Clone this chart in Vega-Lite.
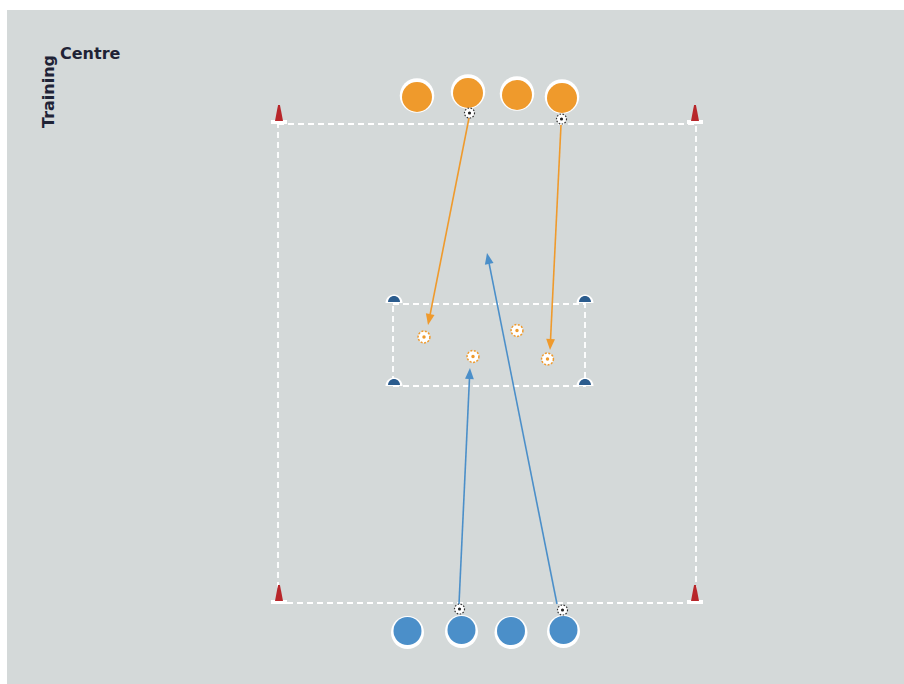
{
  "$schema": "https://vega.github.io/schema/vega-lite/v6.json",
  "width": 897,
  "height": 674,
  "autosize": {"type": "none"},
  "padding": {"left": 7, "top": 10, "right": 0, "bottom": 0},
  "background": "#ffffff",
  "config": {"view": {"fill": "#d4d9d9", "stroke": null}},
  "datasets": {
    "areas": [
      {"name": "pitch", "x": 278, "y": 124, "x2": 696, "y2": 603},
      {"name": "box", "x": 393, "y": 304, "x2": 585, "y2": 386}
    ],
    "cones": [
      {"x": 279, "y": 114}, {"x": 695, "y": 114},
      {"x": 279, "y": 594}, {"x": 695, "y": 594}
    ],
    "domes": [
      {"x": 394, "y": 303}, {"x": 585, "y": 303},
      {"x": 394, "y": 386}, {"x": 585, "y": 386}
    ],
    "orangePlayers": [
      {"x": 417, "y": 97}, {"x": 468, "y": 93}, {"x": 517, "y": 95}, {"x": 562, "y": 98}
    ],
    "bluePlayers": [
      {"x": 407.5, "y": 631}, {"x": 461.5, "y": 630}, {"x": 511, "y": 631}, {"x": 563.5, "y": 630}
    ],
    "balls": [
      {"x": 469.5, "y": 113}, {"x": 561.5, "y": 119}, {"x": 459.5, "y": 609}, {"x": 562.5, "y": 610}
    ],
    "targetBalls": [
      {"x": 424, "y": 337}, {"x": 473, "y": 356.5}, {"x": 517, "y": 330.5}, {"x": 547.5, "y": 359}
    ],
    "passes": [
      {"team": "orange", "x": 469, "y": 118, "x2": 429.1, "y2": 319.6},
      {"team": "orange", "x": 561, "y": 125, "x2": 550.3, "y2": 344.5},
      {"team": "blue", "x": 459, "y": 604, "x2": 469.7, "y2": 373.5},
      {"team": "blue", "x": 557, "y": 604, "x2": 488.1, "y2": 258.4}
    ],
    "heads": [
      {"team": "orange", "x": 429.1, "y": 319.6, "angle": 191.2},
      {"team": "orange", "x": 550.3, "y": 344.5, "angle": 182.8},
      {"team": "blue", "x": 469.7, "y": 373.5, "angle": 2.7},
      {"team": "blue", "x": 488.1, "y": 258.4, "angle": 348.7}
    ],
    "labels": [
      {"text": "Training", "x": 54, "y": 128, "angle": 270},
      {"text": "Centre", "x": 60, "y": 59, "angle": 0}
    ]
  },
  "encoding": {
    "x": {"field": "x", "type": "quantitative", "scale": {"domain": [7, 904], "nice": false, "zero": false}, "axis": null},
    "y": {"field": "y", "type": "quantitative", "scale": {"domain": [10, 684], "nice": false, "zero": false, "reverse": true}, "axis": null}
  },
  "layer": [
    {
      "data": {"name": "areas"},
      "mark": {"type": "rect", "fill": null, "fillOpacity": 0, "stroke": "#ffffff", "strokeWidth": 1.8, "strokeDash": [6, 4]},
      "encoding": {"x2": {"field": "x2"}, "y2": {"field": "y2"}}
    },
    {
      "data": {"name": "passes"},
      "mark": {"type": "rule", "strokeWidth": 1.6},
      "encoding": {
        "x2": {"field": "x2"}, "y2": {"field": "y2"},
        "color": {"field": "team", "type": "nominal", "scale": {"domain": ["orange", "blue"], "range": ["#ef9a2c", "#4b8fc9"]}, "legend": null}
      }
    },
    {
      "data": {"name": "heads"},
      "mark": {"type": "point", "filled": true, "opacity": 1, "shape": "M 0 -1 L 0.8 1 L -0.8 1 Z", "size": 121},
      "encoding": {
        "angle": {"field": "angle", "type": "quantitative", "scale": null},
        "color": {"field": "team", "type": "nominal", "scale": {"domain": ["orange", "blue"], "range": ["#ef9a2c", "#4b8fc9"]}, "legend": null}
      }
    },
    {
      "data": {"name": "cones"},
      "mark": {"type": "point", "filled": true, "opacity": 1, "color": "#ffffff", "shape": "M -1 -0.25 L 1 -0.25 L 1 0.25 L -1 0.25 Z", "size": 256, "yOffset": 8}
    },
    {
      "data": {"name": "cones"},
      "mark": {"type": "point", "filled": true, "opacity": 1, "color": "#b8262a", "shape": "M -0.12 -1 L 0.12 -1 L 0.5 1 L -0.5 1 Z", "size": 256, "yOffset": -1}
    },
    {
      "data": {"name": "domes"},
      "mark": {"type": "point", "filled": true, "opacity": 1, "color": "#ffffff", "shape": "M -1 0 A 1 1 0 0 1 1 0 Z", "size": 289, "yOffset": 0}
    },
    {
      "data": {"name": "domes"},
      "mark": {"type": "point", "filled": true, "opacity": 1, "color": "#2b5c8e", "shape": "M -1 0 A 1 1 0 0 1 1 0 Z", "size": 144, "yOffset": -1}
    },
    {
      "data": {"name": "orangePlayers"},
      "mark": {"type": "circle", "opacity": 1, "color": "#ffffff", "size": 1190, "yOffset": -1.5}
    },
    {
      "data": {"name": "orangePlayers"},
      "mark": {"type": "circle", "opacity": 1, "color": "#ef9a2c", "size": 900}
    },
    {
      "data": {"name": "bluePlayers"},
      "mark": {"type": "circle", "opacity": 1, "color": "#ffffff", "size": 1089, "yOffset": 1.5}
    },
    {
      "data": {"name": "bluePlayers"},
      "mark": {"type": "circle", "opacity": 1, "color": "#4b8fc9", "size": 784}
    },
    {
      "data": {"name": "balls"},
      "mark": {"type": "point", "filled": true, "opacity": 1, "fill": "#ffffff", "stroke": "#333333", "strokeWidth": 1.2, "strokeDash": [1.5, 1.5], "shape": "circle", "size": 100}
    },
    {
      "data": {"name": "balls"},
      "mark": {"type": "point", "filled": true, "opacity": 1, "color": "#222222", "shape": "circle", "size": 10}
    },
    {
      "data": {"name": "targetBalls"},
      "mark": {"type": "point", "filled": true, "opacity": 1, "fill": "#ffffff", "stroke": "#ef9a2c", "strokeWidth": 1.5, "strokeDash": [2, 1.5], "shape": "circle", "size": 140}
    },
    {
      "data": {"name": "targetBalls"},
      "mark": {"type": "point", "filled": true, "opacity": 1, "color": "#ef9a2c", "shape": "circle", "size": 12}
    },
    {
      "data": {"name": "labels"},
      "mark": {"type": "text", "align": "left", "baseline": "alphabetic", "font": "DejaVu Sans", "fontWeight": "bold", "fontSize": 16, "color": "#1f2336"},
      "encoding": {
        "text": {"field": "text"},
        "angle": {"field": "angle", "type": "quantitative", "scale": null}
      }
    }
  ]
}
